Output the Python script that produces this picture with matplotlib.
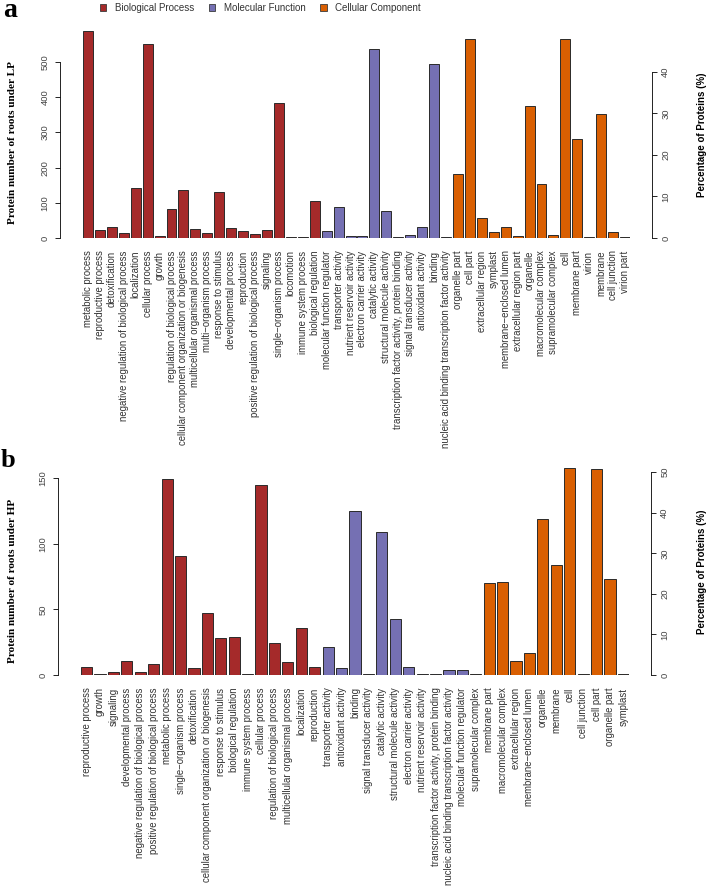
import matplotlib
matplotlib.use('Agg')
import matplotlib.pyplot as plt
from matplotlib.patches import Patch

plt.rcParams['font.family'] = ['Liberation Sans', 'DejaVu Sans']

# ---- panel a: roots under LP ----
lp_terms = [
    'metabolic process', 'reproductive process', 'detoxification',
    'negative regulation of biological process', 'localization',
    'cellular process', 'growth', 'regulation of biological process',
    'cellular component organization or biogenesis',
    'multicellular organismal process', 'multi\u2212organism process',
    'response to stimulus', 'developmental process', 'reproduction',
    'positive regulation of biological process', 'signaling',
    'single\u2212organism process', 'locomotion', 'immune system process',
    'biological regulation',
    'molecular function regulator', 'transporter activity',
    'nutrient reservoir activity', 'electron carrier activity',
    'catalytic activity', 'structural molecule activity',
    'transcription factor activity, protein binding',
    'signal transducer activity', 'antioxidant activity', 'binding',
    'nucleic acid binding transcription factor activity',
    'organelle part', 'cell part', 'extracellular region', 'symplast',
    'membrane\u2212enclosed lumen', 'extracellular region part', 'organelle',
    'macromolecular complex', 'supramolecular complex', 'cell',
    'membrane part', 'virion', 'membrane', 'cell junction', 'virion part']
lp_counts = [
    588, 22, 31, 13, 141, 550, 6, 81, 136, 26, 13, 130, 28, 21, 12, 22,
    384, 2, 4, 105,
    20, 88, 5, 7, 538, 77, 2, 9, 31, 494, 3,
    182, 564, 58, 17, 32, 7, 375, 153, 9, 564, 280, 4, 351, 18, 4]
lp_groups = ['BP'] * 20 + ['MF'] * 11 + ['CC'] * 15
lp_total = 1180

# ---- panel b: roots under HP ----
hp_terms = [
    'reproductive process', 'growth', 'signaling', 'developmental process',
    'negative regulation of biological process',
    'positive regulation of biological process', 'metabolic process',
    'single\u2212organism process', 'detoxification',
    'cellular component organization or biogenesis', 'response to stimulus',
    'biological regulation', 'immune system process', 'cellular process',
    'regulation of biological process', 'multicellular organismal process',
    'localization', 'reproduction',
    'transporter activity', 'antioxidant activity', 'binding',
    'signal transducer activity', 'catalytic activity',
    'structural molecule activity', 'electron carrier activity',
    'nutrient reservoir activity',
    'transcription factor activity, protein binding',
    'nucleic acid binding transcription factor activity',
    'molecular function regulator',
    'supramolecular complex', 'membrane part', 'macromolecular complex',
    'extracellular region', 'membrane\u2212enclosed lumen', 'organelle',
    'membrane', 'cell', 'cell junction', 'cell part', 'organelle part',
    'symplast']
hp_counts = [
    6, 1, 2, 11, 2, 8, 149, 91, 5, 47, 28, 29, 1, 145, 24, 10, 36, 6,
    21, 5, 125, 1, 109, 43, 6, 1, 1, 4, 4,
    1, 70, 71, 11, 17, 119, 84, 158, 1, 157, 73, 1]
hp_groups = ['BP'] * 18 + ['MF'] * 11 + ['CC'] * 12
hp_total = 309

group_names = {'BP': 'Biological Process',
               'MF': 'Molecular Function',
               'CC': 'Cellular Component'}
group_colors = {'BP': '#A52A2A', 'MF': '#7570B3', 'CC': '#D95F02'}

W, H = 709, 892
SERIF = ['Liberation Serif', 'DejaVu Serif']


def draw_panel(fig, left_px, right_px, zero_px, px_per_unit, terms, counts,
               groups, total, ymax, left_ticks, right_ticks, ylabel):
    '''
    Draw one GO bar panel with count axis on the left and
    percentage axis on the right (R barplot look).
    Positions are given in figure pixels from the top-left corner.
    '''
    width_px = right_px - left_px
    height_px = ymax * px_per_unit
    ax = fig.add_axes([left_px / W, (H - zero_px) / H,
                       width_px / W, height_px / H])
    n = len(terms)
    x = list(range(n))
    ax.bar(
        x,
        counts,
        width=0.833,
        color=[group_colors[g] for g in groups],
        edgecolor='#2a2a2a',
        linewidth=0.7)
    ax.set_xlim(-0.4165, n - 1 + 0.4165)
    ax.set_ylim(0, ymax)
    ax.set_xticks(x)
    ax.set_xticklabels(
        terms,
        rotation=90,
        ha='center',
        va='top',
        fontsize=6.9,
        color='#333333')
    ax.tick_params(axis='x', length=0, pad=9)
    for side in ['top', 'right', 'bottom']:
        ax.spines[side].set_visible(False)
    ax.spines['left'].set_position(('outward', 16.5))
    ax.spines['left'].set_bounds(left_ticks[0], left_ticks[-1])
    ax.spines['left'].set_linewidth(0.6)
    ax.set_yticks(left_ticks)
    ax.tick_params(
        axis='y',
        length=3.5,
        width=0.6,
        labelsize=6.8,
        labelcolor='#444444',
        pad=4)
    for lbl in ax.get_yticklabels():
        lbl.set_rotation(90)
        lbl.set_va('center')
    ax.set_ylabel(
        ylabel,
        fontsize=8.1,
        fontweight='bold',
        family=SERIF)
    ax.yaxis.set_label_coords((17 - left_px) / width_px, 0.45)

    ax2 = ax.twinx()
    ax2.set_ylim(0, ymax / total * 100)
    for side in ['top', 'left', 'bottom']:
        ax2.spines[side].set_visible(False)
    ax2.spines['right'].set_position(('outward', 16))
    ax2.spines['right'].set_bounds(right_ticks[0], right_ticks[-1])
    ax2.spines['right'].set_linewidth(0.6)
    ax2.set_yticks(right_ticks)
    ax2.tick_params(
        axis='y',
        length=3.5,
        width=0.6,
        labelsize=6.8,
        labelcolor='#444444',
        pad=3)
    for lbl in ax2.get_yticklabels():
        lbl.set_rotation(90)
        lbl.set_va('center')
    ax2.set_ylabel(
        'Percentage of Proteins (%)',
        fontsize=7,
        fontweight='bold')
    ax2.yaxis.set_label_coords((697 - left_px) / width_px, 0.49)
    return ax, ax2


fig = plt.figure(figsize=(W / 100, H / 100), dpi=100)

# panel a: bars from x=83 to 630 px, zero at y=238 px
draw_panel(
    fig, 83, 630, 238, 0.352,
    lp_terms,
    lp_counts,
    lp_groups,
    lp_total,
    ymax=600,
    left_ticks=[0, 100, 200, 300, 400, 500],
    right_ticks=[0, 10, 20, 30, 40],
    ylabel='Protein number of roots under LP')

# panel b: bars from x=81 to 629 px, zero at y=675 px
draw_panel(
    fig, 81, 629, 675, 1.313,
    hp_terms,
    hp_counts,
    hp_groups,
    hp_total,
    ymax=160,
    left_ticks=[0, 50, 100, 150],
    right_ticks=[0, 10, 20, 30, 40, 50],
    ylabel='Protein number of roots under HP')

fig.text(3 / W, 1 - 17 / H, 'a', fontsize=20, fontweight='bold',
         family=SERIF, ha='left', va='baseline')
fig.text(1 / W, 1 - 467 / H, 'b', fontsize=19, fontweight='bold',
         family=SERIF, ha='left', va='baseline')

handles = [Patch(facecolor=group_colors[g], edgecolor='#3a3a3a',
                 linewidth=0.6, label=group_names[g])
           for g in ['BP', 'MF', 'CC']]
leg = fig.legend(
    handles=handles,
    loc='center left',
    bbox_to_anchor=(100 / W, 1 - 8 / H),
    ncol=3,
    frameon=False,
    fontsize=7,
    handlelength=0.65,
    handleheight=0.65,
    handletextpad=0.9,
    columnspacing=1.5,
    borderpad=0,
    borderaxespad=0)
for t in leg.get_texts():
    t.set_color('#333333')

fig.savefig('out.png', dpi=100)
